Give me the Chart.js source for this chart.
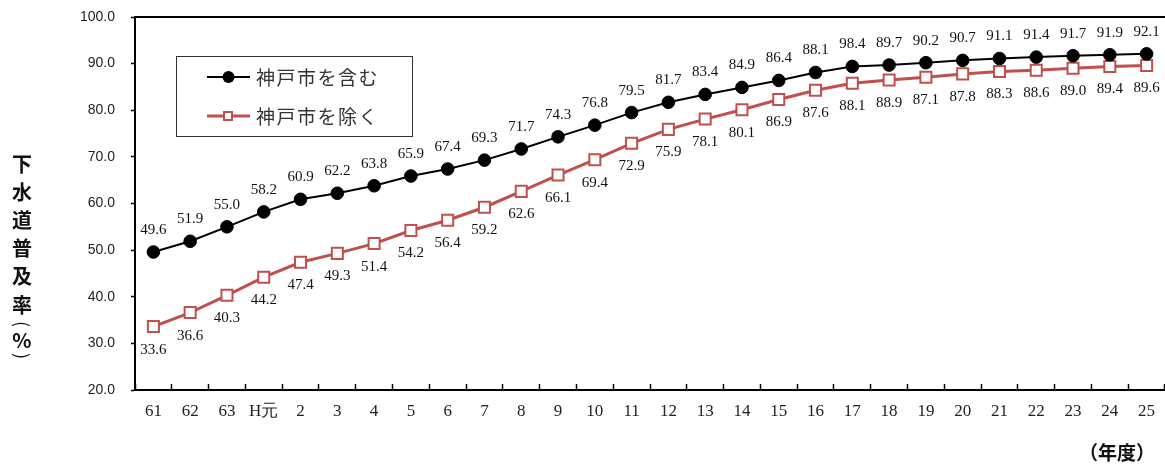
<!DOCTYPE html>
<html>
<head>
<meta charset="utf-8">
<script src="https://cdn.jsdelivr.net/npm/chart.js@4.4.0/dist/chart.umd.min.js"></script>
<style>
  body { margin: 0; background: #fff; overflow: hidden; }
  canvas { display: block; }
</style>
</head>
<body>
<canvas id="chart" width="1165" height="466"></canvas>
<script>
// fiscal years (Showa 61 .. Heisei 25)
const years = ['61', '62', '63', 'H元', '2', '3', '4', '5', '6', '7', '8', '9', '10', '11',
  '12', '13', '14', '15', '16', '17', '18', '19', '20', '21', '22', '23', '24', '25'];

// sewerage coverage (%) including Kobe city
const withKobe = [49.6, 51.9, 55.0, 58.2, 60.9, 62.2, 63.8, 65.9, 67.4, 69.3, 71.7, 74.3, 76.8, 79.5,
  81.7, 83.4, 84.9, 86.4, 88.1, 89.4, 89.7, 90.2, 90.7, 91.1, 91.4, 91.7, 91.9, 92.1];
// excluding Kobe city
const withoutKobe = [33.6, 36.6, 40.3, 44.2, 47.4, 49.3, 51.4, 54.2, 56.4, 59.2, 62.6, 66.1, 69.4, 72.9,
  75.9, 78.1, 80.1, 82.3, 84.3, 85.8, 86.5, 87.1, 87.8, 88.3, 88.6, 89.0, 89.4, 89.6];

// label texts as printed on the original chart
const withKobeLabels = ['49.6', '51.9', '55.0', '58.2', '60.9', '62.2', '63.8', '65.9', '67.4', '69.3',
  '71.7', '74.3', '76.8', '79.5', '81.7', '83.4', '84.9', '86.4', '88.1', '98.4', '89.7', '90.2',
  '90.7', '91.1', '91.4', '91.7', '91.9', '92.1'];
const withoutKobeLabels = ['33.6', '36.6', '40.3', '44.2', '47.4', '49.3', '51.4', '54.2', '56.4', '59.2',
  '62.6', '66.1', '69.4', '72.9', '75.9', '78.1', '80.1', '86.9', '87.6', '88.1', '88.9', '87.1',
  '87.8', '88.3', '88.6', '89.0', '89.4', '89.6'];

const yMin = 20;
const yMax = 100;
const yStep = 10;

const RED = '#C0504D';
const JP = '"Noto Sans CJK JP", sans-serif';

const decorations = {
  id: 'decorations',
  afterDatasetsDraw(chart) {
    const ctx = chart.ctx;
    const area = chart.chartArea;
    ctx.save();
    // top frame line
    ctx.strokeStyle = '#000';
    ctx.lineWidth = 2;
    ctx.beginPath();
    ctx.moveTo(area.left, area.top);
    ctx.lineTo(chart.width, area.top);
    ctx.stroke();

    // value labels, above black points, below red points
    ctx.font = '15px "Liberation Serif"';
    ctx.fillStyle = '#111';
    ctx.textAlign = 'center';
    ctx.textBaseline = 'middle';
    const texts = [withKobeLabels, withoutKobeLabels];
    const offsets = [-22, 23];
    chart.data.datasets.forEach((ds, i) => {
      chart.getDatasetMeta(i).data.forEach((pt, j) => {
        ctx.fillText(texts[i][j], pt.x, pt.y + offsets[i]);
      });
    });
    ctx.restore();
  },
  afterDraw(chart) {
    const ctx = chart.ctx;
    ctx.save();

    // legend box
    ctx.fillStyle = '#fff';
    ctx.fillRect(176, 56, 236, 80);
    ctx.strokeStyle = '#333';
    ctx.lineWidth = 1;
    ctx.strokeRect(176.5, 56.5, 236, 80);

    const rows = [77, 116];
    chart.data.datasets.forEach((ds, i) => {
      const y = rows[i];
      ctx.strokeStyle = ds.borderColor;
      ctx.lineWidth = ds.borderWidth;
      ctx.beginPath();
      ctx.moveTo(207, y);
      ctx.lineTo(250, y);
      ctx.stroke();
      ctx.fillStyle = ds.pointBackgroundColor;
      ctx.strokeStyle = ds.pointBorderColor;
      ctx.lineWidth = ds.pointBorderWidth;
      if (ds.pointStyle === 'rect') {
        ctx.fillRect(224, y - 4, 8, 8);
        ctx.strokeRect(224, y - 4, 8, 8);
      } else {
        ctx.beginPath();
        ctx.arc(228.5, y, 6, 0, Math.PI * 2);
        ctx.fill();
      }
      ctx.fillStyle = '#333';
      ctx.font = '19px ' + JP;
      ctx.textAlign = 'left';
      ctx.textBaseline = 'middle';
      ctx.letterSpacing = '1.5px';
      ctx.fillText(ds.label, 256, y + 1);
      ctx.letterSpacing = '0px';
    });

    // vertical y-axis title
    ctx.fillStyle = '#111';
    ctx.textAlign = 'center';
    ctx.textBaseline = 'middle';
    ctx.font = 'bold 20px ' + JP;
    const titleChars = ['下', '水', '道', '普', '及', '率'];
    titleChars.forEach((c, i) => ctx.fillText(c, 22, 164 + i * 28.2));
    ctx.fillText('%', 22, 340);
    // parentheses turned for vertical writing
    ctx.font = '18px ' + JP;
    [['(', 324], [')', 356]].forEach(([c, y]) => {
      ctx.save();
      ctx.translate(22, y);
      ctx.rotate(Math.PI / 2);
      ctx.fillText(c, 0, 0);
      ctx.restore();
    });

    // unit of x axis
    ctx.font = 'bold 19px ' + JP;
    ctx.fillText('（年度）', 1117, 453);
    ctx.restore();
  }
};

new Chart(document.getElementById('chart').getContext('2d'), {
  type: 'line',
  data: {
    labels: years,
    datasets: [
      {
        label: '神戸市を含む',
        data: withKobe,
        borderColor: '#000',
        backgroundColor: '#000',
        borderWidth: 2,
        pointStyle: 'circle',
        pointRadius: 6.3,
        pointBackgroundColor: '#000',
        pointBorderColor: '#000',
        pointBorderWidth: 1,
        tension: 0
      },
      {
        label: '神戸市を除く',
        data: withoutKobe,
        borderColor: RED,
        backgroundColor: '#fff',
        borderWidth: 3,
        pointStyle: 'rect',
        pointRadius: 7.8,
        pointBackgroundColor: '#fff',
        pointBorderColor: RED,
        pointBorderWidth: 2,
        tension: 0
      }
    ]
  },
  options: {
    responsive: false,
    animation: false,
    devicePixelRatio: 1,
    layout: { autoPadding: false, padding: { top: 17, right: 0, left: 0, bottom: 0 } },
    plugins: {
      legend: { display: false },
      tooltip: { enabled: false }
    },
    scales: {
      x: {
        offset: true,
        grid: {
          offset: true,
          drawOnChartArea: false,
          drawTicks: true,
          tickLength: -6,
          tickColor: '#000',
          tickWidth: 1.5
        },
        border: { display: true, color: '#000', width: 2 },
        ticks: {
          autoSkip: false,
          maxRotation: 0,
          // negative padding + tall line height keeps the labels in place
          // without reserving extra room at the right end
          padding: -10,
          color: '#222',
          font: { family: 'Liberation Serif', size: 17, lineHeight: 4.47 }
        },
        afterFit(scale) {
          scale.height = 76;
        }
      },
      y: {
        min: yMin,
        max: yMax,
        grid: {
          drawOnChartArea: false,
          drawTicks: true,
          tickLength: 4,
          tickColor: '#000',
          tickWidth: 1.5
        },
        border: { display: true, color: '#000', width: 2 },
        ticks: {
          stepSize: yStep,
          padding: 16,
          color: '#222',
          font: { family: 'Liberation Sans', size: 14 },
          callback: v => v.toFixed(1)
        },
        afterFit(scale) {
          scale.width = 135;
          scale.paddingTop = 0;
          scale.paddingBottom = 0;
        }
      }
    }
  },
  plugins: [decorations]
});
</script>
</body>
</html>
